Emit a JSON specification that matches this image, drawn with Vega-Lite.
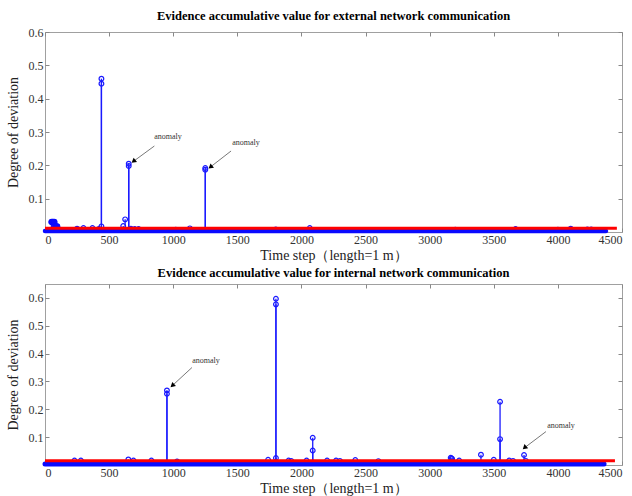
{
  "$schema": "https://vega.github.io/schema/vega-lite/v6.json",
  "background": "white",
  "padding": {"left": 5, "top": 9, "right": 5, "bottom": 0},
  "spacing": 3,
  "config": {
    "font": "Liberation Serif",
    "view": {"stroke": "#a0a0a0", "strokeWidth": 1},
    "axis": {"labelFont": "Liberation Serif", "titleFont": "Liberation Serif", "labelFontSize": 12, "titleFontSize": 14, "labelColor": "#333", "titleColor": "#222", "titleFontWeight": "normal", "grid": false, "domain": false, "tickColor": "#888", "tickSize": -4, "labelPadding": 6},
    "title": {"font": "Liberation Serif", "fontSize": 12.5, "fontWeight": "bold", "color": "#000", "offset": 0}
  },
  "datasets": {
    "stems1": [
      {"t": 440, "v": 0.46}, {"t": 440, "v": 0.445}, {"t": 440, "v": 0.017},
      {"t": 653, "v": 0.205}, {"t": 653, "v": 0.198},
      {"t": 1250, "v": 0.192}, {"t": 1250, "v": 0.187},
      {"t": 625, "v": 0.038}, {"t": 610, "v": 0.018},
      {"t": 50, "v": 0.03}, {"t": 58, "v": 0.03}, {"t": 66, "v": 0.03}, {"t": 74, "v": 0.03},
      {"t": 80, "v": 0.018}, {"t": 88, "v": 0.017}, {"t": 96, "v": 0.017},
      {"t": 250, "v": 0.01}, {"t": 300, "v": 0.012}, {"t": 370, "v": 0.012}, {"t": 420, "v": 0.009},
      {"t": 670, "v": 0.01}, {"t": 700, "v": 0.009}, {"t": 730, "v": 0.009},
      {"t": 1020, "v": 0.007}, {"t": 1130, "v": 0.011}, {"t": 1800, "v": 0.008}, {"t": 2065, "v": 0.012},
      {"t": 3200, "v": 0.007}, {"t": 3670, "v": 0.009}, {"t": 4000, "v": 0.007}, {"t": 4100, "v": 0.01},
      {"t": 4230, "v": 0.008}, {"t": 4260, "v": 0.008}
    ],
    "blob1": [
      {"t": 52, "v": 0.03}, {"t": 62, "v": 0.03}, {"t": 72, "v": 0.03}, {"t": 84, "v": 0.017}, {"t": 94, "v": 0.017}
    ],
    "base1": [
      {"t": 0, "v": 0.003}, {"t": 500, "v": 0.003}, {"t": 1000, "v": 0.003}, {"t": 1500, "v": 0.003},
      {"t": 2000, "v": 0.003}, {"t": 2500, "v": 0.003}, {"t": 3000, "v": 0.003}, {"t": 3500, "v": 0.003},
      {"t": 4000, "v": 0.003}, {"t": 4375, "v": 0.003}
    ],
    "thr1": [{"t": 0, "v": 0.011}, {"t": 4460, "v": 0.011}],
    "ann1": [
      {"t": 959, "v": 0.285, "t1": 853, "v1": 0.258, "t2": 690, "v2": 0.212, "label": "anomaly"},
      {"t": 1567, "v": 0.267, "t1": 1451, "v1": 0.243, "t2": 1290, "v2": 0.195, "label": "anomaly"}
    ],
    "stems2": [
      {"t": 951, "v": 0.268}, {"t": 951, "v": 0.256},
      {"t": 1801, "v": 0.597}, {"t": 1801, "v": 0.577}, {"t": 1801, "v": 0.025},
      {"t": 2088, "v": 0.098}, {"t": 2088, "v": 0.052},
      {"t": 3549, "v": 0.227}, {"t": 3549, "v": 0.093},
      {"t": 3400, "v": 0.037}, {"t": 3736, "v": 0.036},
      {"t": 3164, "v": 0.026}, {"t": 3170, "v": 0.024}, {"t": 3175, "v": 0.022}, {"t": 3500, "v": 0.019},
      {"t": 230, "v": 0.016}, {"t": 280, "v": 0.016}, {"t": 650, "v": 0.02}, {"t": 690, "v": 0.016},
      {"t": 830, "v": 0.016}, {"t": 1030, "v": 0.013}, {"t": 1740, "v": 0.019}, {"t": 1900, "v": 0.016},
      {"t": 1920, "v": 0.015}, {"t": 2040, "v": 0.016}, {"t": 2200, "v": 0.016}, {"t": 2270, "v": 0.016},
      {"t": 2300, "v": 0.015}, {"t": 2420, "v": 0.018}, {"t": 2600, "v": 0.014}, {"t": 3230, "v": 0.016},
      {"t": 3620, "v": 0.016}, {"t": 3650, "v": 0.015}, {"t": 3750, "v": 0.015}
    ],
    "base2": [
      {"t": 0, "v": 0.004}, {"t": 500, "v": 0.004}, {"t": 1000, "v": 0.004}, {"t": 1500, "v": 0.004},
      {"t": 2000, "v": 0.004}, {"t": 2500, "v": 0.004}, {"t": 3000, "v": 0.004}, {"t": 3500, "v": 0.004},
      {"t": 4000, "v": 0.004}, {"t": 4360, "v": 0.004}
    ],
    "thr2": [{"t": 0, "v": 0.015}, {"t": 4445, "v": 0.015}],
    "ann2": [
      {"t": 1256, "v": 0.375, "t1": 1146, "v1": 0.35, "t2": 993, "v2": 0.285, "label": "anomaly"},
      {"t": 4024, "v": 0.141, "t1": 3907, "v1": 0.12, "t2": 3740, "v2": 0.062, "label": "anomaly"}
    ]
  },
  "vconcat": [
    {
      "width": 577,
      "height": 200,
      "title": "Evidence accumulative value for external network communication",
      "resolve": {"axis": {"x": "independent", "y": "independent"}},
      "layer": [
        {
          "data": {"name": "stems1"},
          "mark": {"type": "rule", "color": "#1a1aff", "strokeWidth": 1.3},
          "encoding": {
            "x": {"field": "t", "type": "quantitative", "scale": {"domain": [0, 4500], "nice": false}, "axis": {"values": [0, 500, 1000, 1500, 2000, 2500, 3000, 3500, 4000, 4500], "format": "d", "title": "Time step（length=1 m）", "labelPadding": 6, "titlePadding": 3}},
            "y": {"field": "v", "type": "quantitative", "scale": {"domain": [0, 0.6], "nice": false}, "axis": {"values": [0.1, 0.2, 0.3, 0.4, 0.5, 0.6], "title": "Degree of deviation", "titlePadding": 8}},
            "y2": {"datum": 0}
          }
        },
        {
          "data": {"name": "stems1"},
          "mark": {"type": "point", "shape": "circle", "filled": false, "color": "#1a1aff", "size": 22, "strokeWidth": 1.2, "opacity": 1},
          "encoding": {
            "x": {"field": "t", "type": "quantitative", "axis": {"orient": "top", "values": [0, 500, 1000, 1500, 2000, 2500, 3000, 3500, 4000, 4500], "labels": false, "title": null}},
            "y": {"field": "v", "type": "quantitative", "axis": {"orient": "right", "values": [0.1, 0.2, 0.3, 0.4, 0.5, 0.6], "labels": false, "title": null}}
          }
        },
        {
          "data": {"name": "blob1"},
          "mark": {"type": "point", "shape": "circle", "filled": true, "color": "#0a0aff", "size": 40, "opacity": 1},
          "encoding": {"x": {"field": "t", "type": "quantitative", "axis": null}, "y": {"field": "v", "type": "quantitative", "axis": null}}
        },
        {
          "data": {"name": "base1"},
          "mark": {"type": "line", "color": "#0a0aff", "strokeWidth": 4.5, "strokeCap": "round"},
          "encoding": {"x": {"field": "t", "type": "quantitative", "axis": null}, "y": {"field": "v", "type": "quantitative", "axis": null}}
        },
        {
          "data": {"name": "thr1"},
          "mark": {"type": "line", "color": "#ff0000", "strokeWidth": 3},
          "encoding": {"x": {"field": "t", "type": "quantitative", "axis": null}, "y": {"field": "v", "type": "quantitative", "axis": null}}
        },
        {
          "data": {"name": "ann1"},
          "mark": {"type": "text", "font": "Liberation Serif", "fontSize": 8, "color": "#333"},
          "encoding": {"x": {"field": "t", "type": "quantitative", "axis": null}, "y": {"field": "v", "type": "quantitative", "axis": null}, "text": {"field": "label"}}
        },
        {
          "data": {"name": "ann1"},
          "mark": {"type": "rule", "color": "#555", "strokeWidth": 0.8},
          "encoding": {"x": {"field": "t1", "type": "quantitative", "axis": null}, "y": {"field": "v1", "type": "quantitative", "axis": null}, "x2": {"field": "t2"}, "y2": {"field": "v2"}}
        },
        {
          "data": {"name": "ann1"},
          "mark": {"type": "point", "shape": "triangle-up", "filled": true, "color": "#000", "size": 30, "angle": 231, "opacity": 1},
          "encoding": {"x": {"field": "t2", "type": "quantitative", "axis": null}, "y": {"field": "v2", "type": "quantitative", "axis": null}}
        }
      ]
    },
    {
      "width": 577,
      "height": 181,
      "title": "Evidence accumulative value for internal network communication",
      "resolve": {"axis": {"x": "independent", "y": "independent"}},
      "layer": [
        {
          "data": {"name": "stems2"},
          "mark": {"type": "rule", "color": "#1a1aff", "strokeWidth": 1.3},
          "encoding": {
            "x": {"field": "t", "type": "quantitative", "scale": {"domain": [0, 4500], "nice": false}, "axis": {"values": [0, 500, 1000, 1500, 2000, 2500, 3000, 3500, 4000, 4500], "format": "d", "title": "Time step（length=1 m）", "labelPadding": 6, "titlePadding": 3}},
            "y": {"field": "v", "type": "quantitative", "scale": {"domain": [0, 0.65], "nice": false}, "axis": {"values": [0.1, 0.2, 0.3, 0.4, 0.5, 0.6], "title": "Degree of deviation", "titlePadding": 8}},
            "y2": {"datum": 0}
          }
        },
        {
          "data": {"name": "stems2"},
          "mark": {"type": "point", "shape": "circle", "filled": false, "color": "#1a1aff", "size": 22, "strokeWidth": 1.2, "opacity": 1},
          "encoding": {
            "x": {"field": "t", "type": "quantitative", "axis": {"orient": "top", "values": [0, 500, 1000, 1500, 2000, 2500, 3000, 3500, 4000, 4500], "labels": false, "title": null}},
            "y": {"field": "v", "type": "quantitative", "axis": {"orient": "right", "values": [0.1, 0.2, 0.3, 0.4, 0.5, 0.6], "labels": false, "title": null}}
          }
        },
        {
          "data": {"name": "base2"},
          "mark": {"type": "line", "color": "#0a0aff", "strokeWidth": 5, "strokeCap": "round"},
          "encoding": {"x": {"field": "t", "type": "quantitative", "axis": null}, "y": {"field": "v", "type": "quantitative", "axis": null}}
        },
        {
          "data": {"name": "thr2"},
          "mark": {"type": "line", "color": "#ff0000", "strokeWidth": 3},
          "encoding": {"x": {"field": "t", "type": "quantitative", "axis": null}, "y": {"field": "v", "type": "quantitative", "axis": null}}
        },
        {
          "data": {"name": "ann2"},
          "mark": {"type": "text", "font": "Liberation Serif", "fontSize": 8, "color": "#333"},
          "encoding": {"x": {"field": "t", "type": "quantitative", "axis": null}, "y": {"field": "v", "type": "quantitative", "axis": null}, "text": {"field": "label"}}
        },
        {
          "data": {"name": "ann2"},
          "mark": {"type": "rule", "color": "#555", "strokeWidth": 0.8},
          "encoding": {"x": {"field": "t1", "type": "quantitative", "axis": null}, "y": {"field": "v1", "type": "quantitative", "axis": null}, "x2": {"field": "t2"}, "y2": {"field": "v2"}}
        },
        {
          "data": {"name": "ann2"},
          "mark": {"type": "point", "shape": "triangle-up", "filled": true, "color": "#000", "size": 30, "angle": 228, "opacity": 1},
          "encoding": {"x": {"field": "t2", "type": "quantitative", "axis": null}, "y": {"field": "v2", "type": "quantitative", "axis": null}}
        }
      ]
    }
  ]
}
